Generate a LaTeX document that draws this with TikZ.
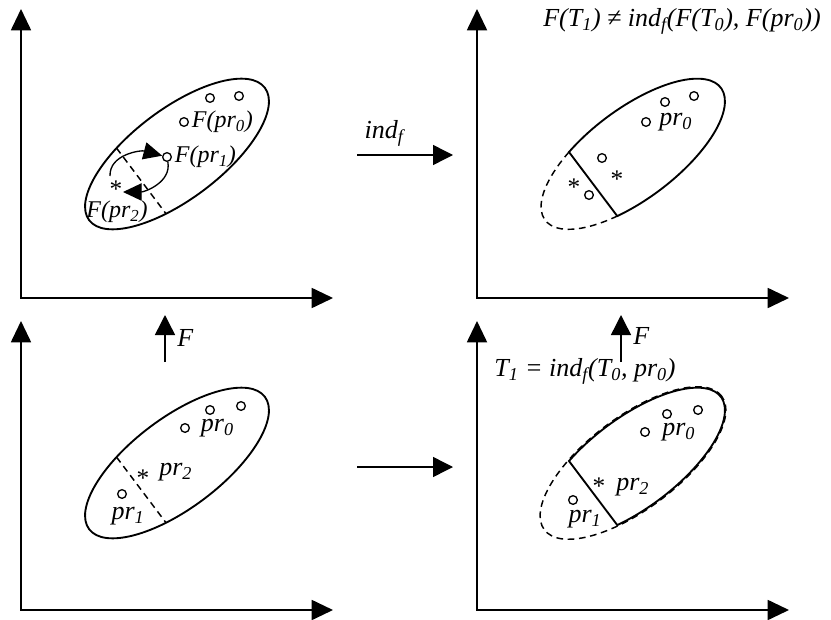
\documentclass[tikz,border=0pt]{standalone}
\usepackage{fontspec}
\setmainfont{Liberation Serif}
\usetikzlibrary{arrows.meta,positioning}
\newcommand\astk{\raisebox{-0.33em}[0.35em][0.03em]{*}}

\begin{document}
\begin{tikzpicture}[
  x=0.75pt, y=0.75pt,
  font=\fontsize{19.5}{23}\selectfont\itshape,
  axis/.style={line width=1.4pt, {Triangle[length=16pt,width=15pt]}-{Triangle[length=16pt,width=15pt]}},
  maparrow/.style={line width=1.1pt, -{Triangle[length=15pt,width=15pt]}},
  curvearrow/.style={line width=1pt, -{Triangle[length=14pt,width=13pt]}},
  blob/.style={line width=1.4pt},
  cutline/.style={line width=1.1pt, dash pattern=on 5pt off 3.5pt},
  dot/.style={circle, draw, line width=1pt, inner sep=0pt, minimum size=6.5pt},
  asterisk/.style={inner sep=0pt, font=\fontsize{19}{23}\selectfont\upshape},
  lbl/.style={inner sep=0pt},
  flbl/.style={inner sep=0pt, font=\fontsize{18}{21}\selectfont\itshape}
]
\useasboundingbox (0,0) rectangle (831,619);

% axes
\foreach \cx/\cy in {21/321, 477/321, 21/9, 477/9}
  \draw[axis] (\cx,\cy+289) -- (\cx,\cy) -- (\cx+312,\cy);

% top left
\draw[blob, rotate around={37:(177,465)}] (177,465) ellipse [x radius=110, y radius=45];
\begin{scope}[shift={(177,465)}, rotate=37]
  \draw[cutline] (114:110 and 45) -- (246:110 and 45);
\end{scope}
\node[dot] (ta) at (210,521) {};
\node[dot] (tb) at (239,523) {};
\node[dot] (tp0) at (184,497) {};
\node[dot] (tp1) at (167,462) {};
\node[asterisk] (tp2) at (116,434) {\astk};
\node[flbl, right=2pt of tp0] (tl0) {F(pr\textsubscript{0})};
\node[flbl, right=2pt of tp1] (tl1) {F(pr\textsubscript{1})};
\node[flbl] (tl2) at (117,407) {F(pr\textsubscript{2})};
\coordinate (ts) at (110,443);
\coordinate (te) at (123,427);
\draw[curvearrow] (ts) to[out=92, in=165] (tp1);
\draw[curvearrow] (tp1) to[out=-80, in=0] (te);

% top right
\draw[blob, shift={(633,465)}, rotate=37] (117:110 and 45) arc[start angle=117, end angle=-117, x radius=110, y radius=45] -- cycle;
\draw[cutline, shift={(633,465)}, rotate=37] (117:110 and 45) arc[start angle=117, end angle=243, x radius=110, y radius=45];
\node[dot] (ra) at (665,517) {};
\node[dot] (rb) at (694,523) {};
\node[dot] (rp0) at (646,497) {};
\node[dot] (rc) at (602,461) {};
\node[asterisk] (rs) at (617,444) {\astk};
\node[asterisk] (rt) at (574,436) {\astk};
\node[dot] (rd) at (589,424) {};
\node[lbl, right=6pt of rp0] (rl0) {pr\textsubscript{0}};
\node[lbl] (rtop) at (682,598) {F(T\textsubscript{1}) ≠ ind\textsubscript{f}(F(T\textsubscript{0}), F(pr\textsubscript{0}))};

% bottom left
\draw[blob, rotate around={37:(177,156)}] (177,156) ellipse [x radius=110, y radius=45];
\begin{scope}[shift={(177,156)}, rotate=37]
  \draw[cutline] (114:110 and 45) -- (246:110 and 45);
\end{scope}
\node[dot] (la) at (210,209) {};
\node[dot] (lb) at (241,213) {};
\node[dot] (lp0) at (185,191) {};
\node[asterisk] (lp2) at (143,145) {\astk};
\node[dot] (lp1) at (122,125) {};
\node[lbl, right=8pt of lp0] (ll0) {pr\textsubscript{0}};
\node[lbl, anchor=west] (ll2) at (159,147) {pr\textsubscript{2}};
\node[lbl] (ll1) at (128,103) {pr\textsubscript{1}};

% bottom right
\draw[cutline, shift={(633,156)}, rotate=37] (0,0) ellipse [x radius=111, y radius=46];
\draw[blob, shift={(633,156)}, rotate=37] (117:110 and 45) arc[start angle=117, end angle=-117, x radius=110, y radius=45] -- cycle;
\node[dot] (da) at (667,205) {};
\node[dot] (db) at (698,209) {};
\node[dot] (dp0) at (645,187) {};
\node[asterisk] (dp2) at (599,137) {\astk};
\node[dot] (dp1) at (573,119) {};
\node[lbl, right=9pt of dp0] (dl0) {pr\textsubscript{0}};
\node[lbl, anchor=west] (dl2) at (616,132) {pr\textsubscript{2}};
\node[lbl] (dl1) at (585,100) {pr\textsubscript{1}};
\node[lbl] (dtop) at (585,248) {T\textsubscript{1} = ind\textsubscript{f}(T\textsubscript{0}, pr\textsubscript{0})};

% maps between panels
\coordinate (ua) at (357,464);
\coordinate (ub) at (453,464);
\coordinate (va) at (357,152);
\coordinate (vb) at (453,152);
\coordinate (fa) at (165,257);
\coordinate (fb) at (165,304);
\coordinate (ga) at (621,257);
\coordinate (gb) at (621,304);
\draw[maparrow] (ua) -- (ub);
\draw[maparrow] (va) -- (vb);
\draw[maparrow] (fa) -- (fb);
\draw[maparrow] (ga) -- (gb);
\node[lbl] (ind) at (384,486) {ind\textsubscript{f}};
\node[lbl, anchor=west] (fl) at (177,281) {F};
\node[lbl, anchor=west] (gl) at (633,283) {F};
\end{tikzpicture}
\end{document}
